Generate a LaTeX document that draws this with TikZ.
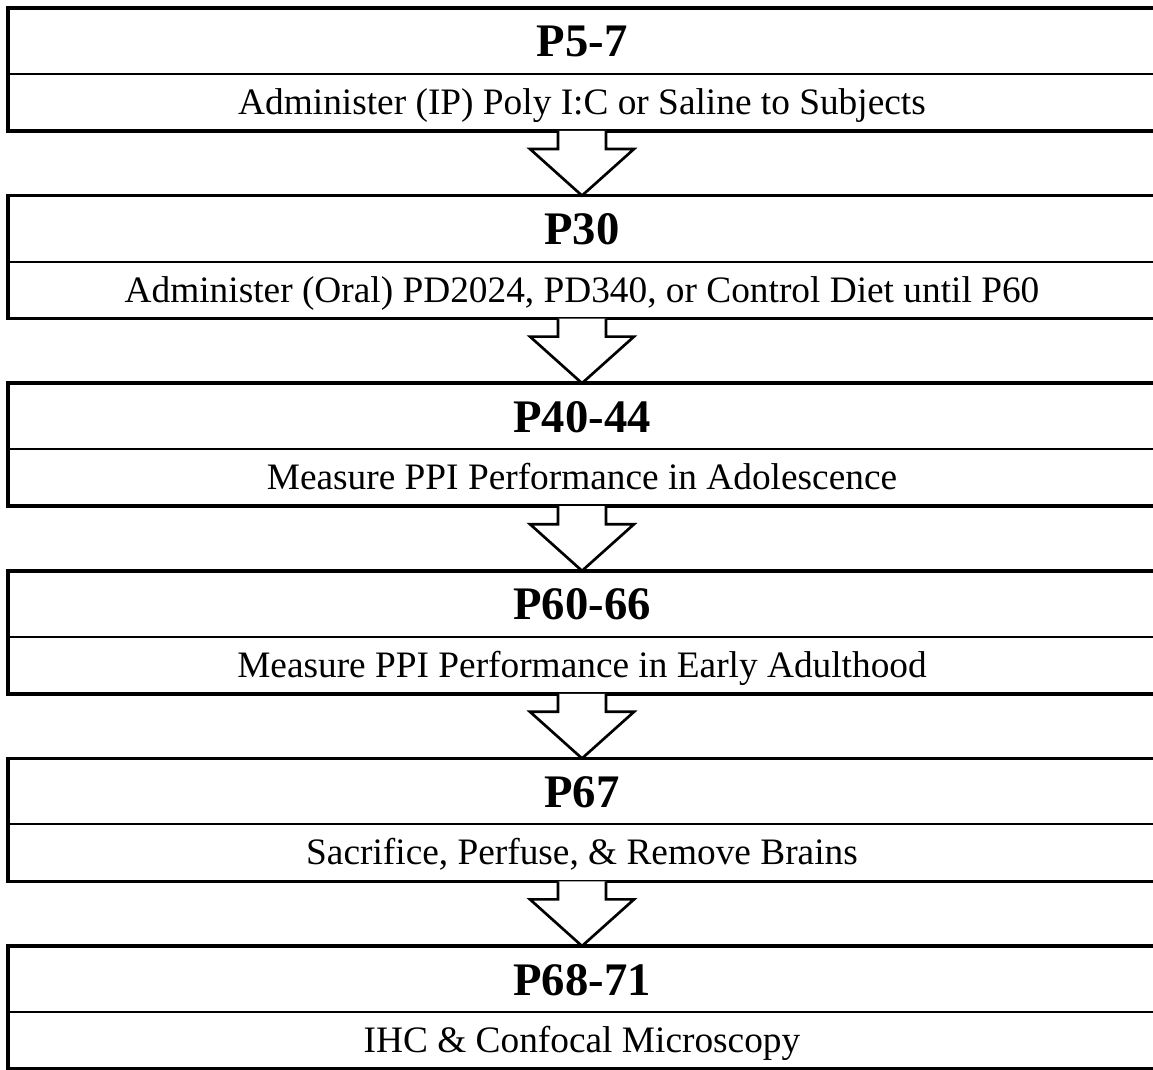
\documentclass[tikz,border=0pt]{standalone}
\usepackage{fontspec}
\setmainfont{Liberation Serif}
\usetikzlibrary{calc,positioning}
\tikzset{
  stagehead/.style={
    draw=black,
    line width=1.5pt,
    minimum width=861pt,
    minimum height=49.5pt,
    inner sep=0pt,
    outer sep=0pt,
    text height=24pt,
    text depth=0pt,
    font=\fontsize{35pt}{40pt}\selectfont\bfseries
  },
  stagebody/.style={
    draw=black,
    line width=1.5pt,
    minimum width=861pt,
    minimum height=42.75pt,
    inner sep=0pt,
    outer sep=0pt,
    text height=18pt,
    text depth=0pt,
    font=\fontsize{28pt}{32pt}\selectfont
  },
  frame/.style={
    draw=black,
    line width=2.6pt
  },
  blockarrow/.style={
    draw=black,
    line width=2pt,
    line join=miter,
    fill=white
  }
}

\begin{document}
\begin{tikzpicture}[x=0.75pt,y=-0.75pt,node distance=48.45pt]
\useasboundingbox (0,0) rectangle (1153,1070);
% stages
\node[stagehead] (h1) at (582,41) {P5-7};
\node[stagebody, below=0pt of h1] (b1) {Administer (IP) Poly I:C or Saline to Subjects};
\node[stagehead, below=of b1] (h2) {P30};
\node[stagebody, below=0pt of h2] (b2) {Administer (Oral) PD2024, PD340, or Control Diet until P60};
\node[stagehead, below=of b2] (h3) {P40-44};
\node[stagebody, below=0pt of h3] (b3) {Measure PPI Performance in Adolescence};
\node[stagehead, below=of b3] (h4) {P60-66};
\node[stagebody, below=0pt of h4] (b4) {Measure PPI Performance in Early Adulthood};
\node[stagehead, below=of b4] (h5) {P67};
\node[stagebody, below=0pt of h5] (b5) {Sacrifice, Perfuse, \& Remove Brains};
\node[stagehead, below=of b5] (h6) {P68-71};
\node[stagebody, below=0pt of h6] (b6) {IHC \& Confocal Microscopy};
% outer frames
\foreach \i in {1,...,6}
  \draw[frame] (h\i.north west) rectangle (b\i.south east);
% block arrows
\foreach \i/\j in {1/2,2/3,3/4,4/5,5/6}
  \draw[blockarrow] ($(b\i.south)+(-24,0)$) -- ++(0,18) -- ++(-28,0) -- (h\j.north)
    -- ($(b\i.south)+(52,18)$) -- ++(-28,0) -- ++(0,-18);
\end{tikzpicture}
\end{document}
